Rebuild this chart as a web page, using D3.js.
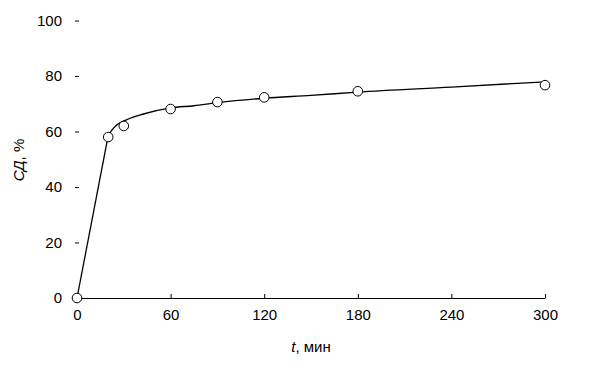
<!DOCTYPE html>
<html>
<head>
<meta charset="utf-8">
<script src="https://cdn.jsdelivr.net/npm/d3@7/dist/d3.min.js"></script>
<style>
  body { margin: 0; background: #fff; }
  svg text { font-family: "Liberation Sans", Arial, sans-serif; fill: #000; }
</style>
</head>
<body>
<svg id="chart"></svg>
<script>
// measured points
let times = [0, 20, 30, 60, 90, 120, 180, 300]
let degree = [0, 58, 62, 68.1, 70.6, 72.3, 74.5, 76.7]

// fitted curve (straight from 0 to 20, smooth after)
let fitTimes = [0, 20, 22, 26, 32, 42, 60, 75, 90, 120, 150, 180, 240, 300]
let fitDegree = [0, 58.5, 60.2, 62.6, 64.3, 66.2, 68.5, 69.3, 70.4, 72.0, 73.0, 74.2, 76.0, 77.9]

let xTicks = [0, 60, 120, 180, 240, 300]
let yTicks = [0, 20, 40, 60, 80, 100]

let width = 606,
    height = 370

let $svg = d3.select('#chart')
    .attr('width', width)
    .attr('height', height)

let xScale = d3.scaleLinear()
    .domain([0, 300])
    .range([77, 545])

let yScale = d3.scaleLinear()
    .domain([0, 100])
    .range([298, 20.5])

// x axis: plain line, short inner ticks
let xAxis = d3.axisBottom(xScale)
    .tickValues(xTicks)
    .tickSizeInner(-4)
    .tickSizeOuter(0)
    .tickPadding(11)

let $x = $svg.append('g')
    .attr('transform', 'translate(0,' + yScale(0) + ')')
    .call(xAxis)
$x.select('.domain').attr('stroke', '#000').attr('stroke-width', 1)
$x.selectAll('.tick line').attr('stroke', '#000')
$x.selectAll('.tick text')
    .attr('font-size', 15)
    .attr('font-family', '"Liberation Sans", Arial, sans-serif')

// y axis: no line, small dashes straddling x=0
let yAxis = d3.axisLeft(yScale)
    .tickValues(yTicks)
    .tickSizeInner(0)
    .tickSizeOuter(0)
    .tickPadding(15)

let $y = $svg.append('g')
    .attr('transform', 'translate(' + xScale(0) + ',0)')
    .call(yAxis)
$y.select('.domain').remove()
$y.selectAll('.tick line')
    .attr('x1', -2)
    .attr('x2', 2)
    .attr('stroke', '#000')
$y.selectAll('.tick text')
    .attr('font-size', 15)
    .attr('font-family', '"Liberation Sans", Arial, sans-serif')
    .attr('dy', '0.3em')

// axis titles
let xTitle = $svg.append('text')
    .attr('x', (xScale.range()[0] + xScale.range()[1]) / 2)
    .attr('y', 352)
    .attr('text-anchor', 'middle')
    .attr('font-size', 15)
xTitle.append('tspan').attr('font-style', 'italic').text('t')
xTitle.append('tspan').text(', мин')

let yTitle = $svg.append('text')
    .attr('transform', 'translate(24,160) rotate(-90)')
    .attr('text-anchor', 'middle')
    .attr('font-size', 15)
yTitle.append('tspan').attr('font-style', 'italic').text('СД')
yTitle.append('tspan').text(', %')

// curve: first leg is a straight segment, the rest is smooth
let fitData = fitTimes.map((t, i) => [t, fitDegree[i]])

let straightLine = d3.line()
    .x(d => xScale(d[0]))
    .y(d => yScale(d[1]))

let smoothLine = d3.line()
    .x(d => xScale(d[0]))
    .y(d => yScale(d[1]))
    .curve(d3.curveMonotoneX)

$svg.append('path')
    .datum(fitData.slice(0, 2))
    .attr('d', straightLine)
    .attr('fill', 'none')
    .attr('stroke', '#000')
    .attr('stroke-width', 1.3)

$svg.append('path')
    .datum(fitData.slice(1))
    .attr('d', smoothLine)
    .attr('fill', 'none')
    .attr('stroke', '#000')
    .attr('stroke-width', 1.4)

// points
$svg.selectAll('circle.pt')
    .data(times.map((t, i) => [t, degree[i]]))
    .enter().append('circle')
    .attr('class', 'pt')
    .attr('cx', d => xScale(d[0]))
    .attr('cy', d => yScale(d[1]))
    .attr('r', 4.8)
    .attr('fill', '#fff')
    .attr('stroke', '#000')
    .attr('stroke-width', 1)
</script>
</body>
</html>
